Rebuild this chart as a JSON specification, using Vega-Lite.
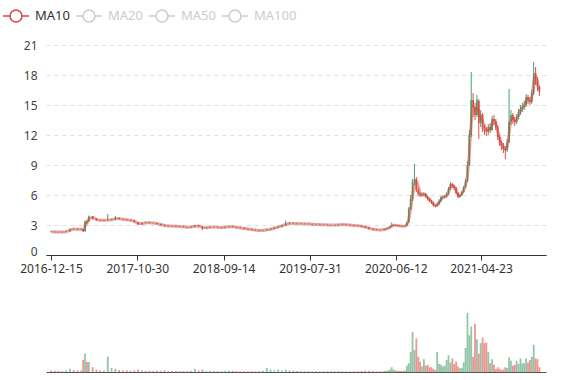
{
"$schema": "https://vega.github.io/schema/vega-lite/v6.json",
"background": "white",
"padding": {"left": 1, "top": 2, "right": 5, "bottom": 3},
"config": {
  "view": {"stroke": null},
  "font": "Noto Sans",
  "axisY": {"domain": false, "ticks": false, "grid": true, "gridColor": "#e0e0e0", "gridDash": [4, 4], "labelColor": "#444", "labelFontSize": 12, "labelPadding": 9, "minExtent": 45, "maxExtent": 45},
  "axisX": {"grid": false, "domainColor": "#333", "tickColor": "#333", "labelColor": "#333", "labelFontSize": 12, "tickSize": 5, "labelPadding": 3, "labelFlush": false}
},
"data": {"values": [
{"d":"2016-12-15","o":2.34,"c":2.32,"h":2.38,"l":2.29,"v":2,"m":2.33},
{"d":"2016-12-29","o":2.32,"c":2.30,"h":2.35,"l":2.27,"v":1.5,"m":2.31},
{"d":"2017-01-12","o":2.30,"c":2.28,"h":2.33,"l":2.25,"v":1.5,"m":2.29},
{"d":"2017-01-26","o":2.28,"c":2.31,"h":2.34,"l":2.26,"v":1.2,"m":2.29},
{"d":"2017-02-09","o":2.31,"c":2.36,"h":2.40,"l":2.29,"v":2,"m":2.33},
{"d":"2017-02-23","o":2.38,"c":2.58,"h":2.66,"l":2.36,"v":4,"m":2.47},
{"d":"2017-03-09","o":2.58,"c":2.60,"h":2.68,"l":2.55,"v":2.5,"m":2.59},
{"d":"2017-03-23","o":2.60,"c":2.56,"h":2.63,"l":2.52,"v":2,"m":2.58},
{"d":"2017-04-06","o":2.56,"c":2.58,"h":2.62,"l":2.52,"v":2,"m":2.57},
{"d":"2017-04-13","o":2.58,"c":2.40,"h":2.60,"l":2.30,"v":15,"m":2.50},
{"d":"2017-04-20","o":2.40,"c":3.35,"h":3.45,"l":2.30,"v":23,"m":2.90},
{"d":"2017-04-27","o":3.35,"c":3.20,"h":3.50,"l":3.10,"v":12.5,"m":3.20},
{"d":"2017-05-04","o":3.40,"c":3.85,"h":3.95,"l":3.30,"v":12.5,"m":3.60},
{"d":"2017-05-18","o":3.85,"c":3.62,"h":3.90,"l":3.55,"v":6,"m":3.75},
{"d":"2017-06-01","o":3.62,"c":3.48,"h":3.66,"l":3.42,"v":3,"m":3.56},
{"d":"2017-06-15","o":3.48,"c":3.45,"h":3.52,"l":3.40,"v":2,"m":3.47},
{"d":"2017-06-29","o":3.45,"c":3.50,"h":3.55,"l":3.42,"v":2,"m":3.47},
{"d":"2017-07-13","o":3.48,"c":3.52,"h":4.10,"l":3.44,"v":19,"m":3.50},
{"d":"2017-07-27","o":3.52,"c":3.55,"h":3.60,"l":3.48,"v":5,"m":3.53},
{"d":"2017-08-10","o":3.55,"c":3.70,"h":3.90,"l":3.52,"v":4,"m":3.62},
{"d":"2017-08-24","o":3.70,"c":3.60,"h":3.74,"l":3.56,"v":2.5,"m":3.65},
{"d":"2017-09-07","o":3.60,"c":3.54,"h":3.63,"l":3.50,"v":2,"m":3.57},
{"d":"2017-09-21","o":3.54,"c":3.50,"h":3.57,"l":3.46,"v":2,"m":3.52},
{"d":"2017-10-05","o":3.50,"c":3.46,"h":3.53,"l":3.42,"v":1.5,"m":3.48},
{"d":"2017-10-19","o":3.46,"c":3.30,"h":3.48,"l":3.25,"v":2,"m":3.38},
{"d":"2017-11-02","o":3.28,"c":3.08,"h":3.30,"l":3.02,"v":3,"m":3.18},
{"d":"2017-11-16","o":3.08,"c":3.20,"h":3.24,"l":3.05,"v":2,"m":3.14},
{"d":"2017-11-30","o":3.20,"c":3.25,"h":3.29,"l":3.16,"v":1.5,"m":3.22},
{"d":"2017-12-14","o":3.25,"c":3.20,"h":3.28,"l":3.16,"v":1.5,"m":3.22},
{"d":"2017-12-28","o":3.20,"c":3.18,"h":3.23,"l":3.14,"v":1.2,"m":3.19},
{"d":"2018-01-11","o":3.18,"c":3.10,"h":3.21,"l":3.06,"v":1.5,"m":3.14},
{"d":"2018-01-25","o":3.10,"c":3.00,"h":3.13,"l":2.96,"v":1.5,"m":3.05},
{"d":"2018-02-08","o":3.00,"c":2.92,"h":3.03,"l":2.86,"v":2,"m":2.96},
{"d":"2018-02-22","o":2.92,"c":2.90,"h":2.95,"l":2.86,"v":1,"m":2.91},
{"d":"2018-03-08","o":2.90,"c":2.88,"h":2.93,"l":2.84,"v":1.2,"m":2.89},
{"d":"2018-03-22","o":2.88,"c":2.86,"h":2.91,"l":2.82,"v":1.2,"m":2.87},
{"d":"2018-04-05","o":2.86,"c":2.84,"h":2.89,"l":2.80,"v":1,"m":2.85},
{"d":"2018-04-19","o":2.84,"c":2.80,"h":2.87,"l":2.76,"v":1.2,"m":2.82},
{"d":"2018-05-03","o":2.80,"c":2.76,"h":2.83,"l":2.72,"v":1.2,"m":2.78},
{"d":"2018-05-17","o":2.76,"c":2.82,"h":2.86,"l":2.73,"v":1.5,"m":2.79},
{"d":"2018-05-31","o":2.82,"c":2.95,"h":3.00,"l":2.80,"v":4,"m":2.88},
{"d":"2018-06-14","o":2.95,"c":2.85,"h":2.97,"l":2.80,"v":2,"m":2.90},
{"d":"2018-06-28","o":2.85,"c":2.68,"h":2.88,"l":2.50,"v":3,"m":2.76},
{"d":"2018-07-12","o":2.68,"c":2.75,"h":2.79,"l":2.64,"v":1.5,"m":2.72},
{"d":"2018-07-26","o":2.75,"c":2.80,"h":2.84,"l":2.72,"v":1.5,"m":2.78},
{"d":"2018-08-09","o":2.80,"c":2.78,"h":2.83,"l":2.74,"v":1.2,"m":2.79},
{"d":"2018-08-23","o":2.78,"c":2.76,"h":2.81,"l":2.72,"v":1,"m":2.77},
{"d":"2018-09-06","o":2.76,"c":2.74,"h":2.79,"l":2.70,"v":1,"m":2.75},
{"d":"2018-09-20","o":2.74,"c":2.80,"h":2.84,"l":2.71,"v":1.5,"m":2.77},
{"d":"2018-10-04","o":2.80,"c":2.84,"h":2.88,"l":2.76,"v":1.5,"m":2.82},
{"d":"2018-10-18","o":2.84,"c":2.80,"h":2.87,"l":2.75,"v":1.5,"m":2.82},
{"d":"2018-11-01","o":2.80,"c":2.74,"h":2.83,"l":2.70,"v":1.2,"m":2.77},
{"d":"2018-11-15","o":2.74,"c":2.70,"h":2.77,"l":2.66,"v":1,"m":2.72},
{"d":"2018-11-29","o":2.70,"c":2.62,"h":2.72,"l":2.58,"v":1,"m":2.66},
{"d":"2018-12-13","o":2.62,"c":2.58,"h":2.65,"l":2.54,"v":1,"m":2.60},
{"d":"2018-12-27","o":2.58,"c":2.52,"h":2.61,"l":2.48,"v":1,"m":2.55},
{"d":"2019-01-10","o":2.52,"c":2.48,"h":2.55,"l":2.44,"v":1,"m":2.50},
{"d":"2019-01-24","o":2.48,"c":2.45,"h":2.51,"l":2.42,"v":1,"m":2.46},
{"d":"2019-02-07","o":2.45,"c":2.48,"h":2.52,"l":2.42,"v":1.5,"m":2.46},
{"d":"2019-02-21","o":2.48,"c":2.55,"h":2.60,"l":2.46,"v":5,"m":2.52},
{"d":"2019-03-07","o":2.55,"c":2.62,"h":2.67,"l":2.52,"v":3,"m":2.58},
{"d":"2019-03-21","o":2.62,"c":2.75,"h":2.80,"l":2.60,"v":2,"m":2.68},
{"d":"2019-04-04","o":2.75,"c":2.85,"h":2.90,"l":2.72,"v":3,"m":2.80},
{"d":"2019-04-18","o":2.85,"c":2.95,"h":3.02,"l":2.82,"v":2,"m":2.90},
{"d":"2019-05-02","o":2.95,"c":3.15,"h":3.45,"l":2.92,"v":3,"m":3.05},
{"d":"2019-05-16","o":3.15,"c":3.18,"h":3.25,"l":3.10,"v":2,"m":3.16},
{"d":"2019-05-30","o":3.18,"c":3.15,"h":3.22,"l":3.11,"v":1.5,"m":3.16},
{"d":"2019-06-13","o":3.15,"c":3.14,"h":3.19,"l":3.10,"v":1.2,"m":3.14},
{"d":"2019-06-27","o":3.14,"c":3.12,"h":3.17,"l":3.08,"v":1,"m":3.13},
{"d":"2019-07-11","o":3.12,"c":3.12,"h":3.16,"l":3.08,"v":1,"m":3.12},
{"d":"2019-07-25","o":3.12,"c":3.10,"h":3.15,"l":3.06,"v":1,"m":3.11},
{"d":"2019-08-08","o":3.10,"c":3.06,"h":3.13,"l":3.02,"v":1,"m":3.08},
{"d":"2019-08-22","o":3.06,"c":3.05,"h":3.10,"l":3.01,"v":1,"m":3.05},
{"d":"2019-09-05","o":3.05,"c":3.04,"h":3.09,"l":3.00,"v":1,"m":3.04},
{"d":"2019-09-19","o":3.04,"c":3.02,"h":3.07,"l":2.98,"v":1,"m":3.03},
{"d":"2019-10-03","o":3.02,"c":3.00,"h":3.05,"l":2.96,"v":1,"m":3.01},
{"d":"2019-10-17","o":3.00,"c":2.98,"h":3.03,"l":2.94,"v":1,"m":2.99},
{"d":"2019-10-31","o":2.98,"c":3.00,"h":3.04,"l":2.95,"v":1,"m":2.99},
{"d":"2019-11-14","o":3.00,"c":3.04,"h":3.08,"l":2.97,"v":1.2,"m":3.02},
{"d":"2019-11-28","o":3.04,"c":3.05,"h":3.09,"l":3.00,"v":1,"m":3.04},
{"d":"2019-12-12","o":3.05,"c":3.02,"h":3.08,"l":2.98,"v":1,"m":3.03},
{"d":"2019-12-26","o":3.02,"c":2.98,"h":3.05,"l":2.94,"v":1,"m":3.00},
{"d":"2020-01-09","o":2.98,"c":2.95,"h":3.01,"l":2.91,"v":1,"m":2.96},
{"d":"2020-01-23","o":2.95,"c":2.92,"h":2.98,"l":2.88,"v":1,"m":2.93},
{"d":"2020-02-06","o":2.92,"c":2.85,"h":2.95,"l":2.80,"v":1.2,"m":2.88},
{"d":"2020-02-20","o":2.85,"c":2.75,"h":2.88,"l":2.70,"v":1.5,"m":2.80},
{"d":"2020-03-05","o":2.75,"c":2.62,"h":2.78,"l":2.55,"v":1.5,"m":2.68},
{"d":"2020-03-19","o":2.62,"c":2.55,"h":2.66,"l":2.48,"v":1.2,"m":2.58},
{"d":"2020-04-02","o":2.55,"c":2.52,"h":2.58,"l":2.48,"v":1,"m":2.53},
{"d":"2020-04-16","o":2.52,"c":2.50,"h":2.55,"l":2.46,"v":1,"m":2.51},
{"d":"2020-04-30","o":2.50,"c":2.58,"h":2.62,"l":2.48,"v":1.2,"m":2.54},
{"d":"2020-05-07","o":2.58,"c":2.65,"h":2.70,"l":2.56,"v":1.5,"m":2.60},
{"d":"2020-05-14","o":2.65,"c":2.70,"h":2.75,"l":2.62,"v":2,"m":2.66},
{"d":"2020-05-21","o":2.70,"c":2.85,"h":2.90,"l":2.68,"v":3,"m":2.76},
{"d":"2020-05-28","o":2.85,"c":2.98,"h":3.25,"l":2.82,"v":6,"m":2.88},
{"d":"2020-06-04","o":2.98,"c":3.00,"h":3.05,"l":2.92,"v":3,"m":2.98},
{"d":"2020-06-11","o":3.00,"c":2.96,"h":3.04,"l":2.90,"v":2,"m":2.98},
{"d":"2020-06-18","o":2.96,"c":2.93,"h":2.99,"l":2.88,"v":1.5,"m":2.95},
{"d":"2020-06-25","o":2.93,"c":2.90,"h":2.96,"l":2.86,"v":1.5,"m":2.92},
{"d":"2020-07-02","o":2.90,"c":2.88,"h":2.93,"l":2.84,"v":1.2,"m":2.89},
{"d":"2020-07-09","o":2.88,"c":2.87,"h":2.92,"l":2.83,"v":1.2,"m":2.88},
{"d":"2020-07-16","o":2.87,"c":2.92,"h":2.96,"l":2.84,"v":2,"m":2.89},
{"d":"2020-07-23","o":2.92,"c":3.25,"h":3.35,"l":2.90,"v":8,"m":3.05},
{"d":"2020-07-30","o":3.25,"c":4.60,"h":4.80,"l":3.20,"v":11,"m":3.60},
{"d":"2020-08-06","o":4.60,"c":5.60,"h":6.00,"l":4.50,"v":25,"m":4.60},
{"d":"2020-08-13","o":5.60,"c":7.30,"h":7.60,"l":5.40,"v":50,"m":5.90},
{"d":"2020-08-20","o":7.30,"c":7.60,"h":9.10,"l":7.00,"v":27.5,"m":7.00},
{"d":"2020-08-27","o":7.60,"c":6.50,"h":7.80,"l":6.30,"v":42,"m":7.40},
{"d":"2020-09-03","o":6.50,"c":6.10,"h":6.70,"l":5.90,"v":19,"m":6.90},
{"d":"2020-09-10","o":6.10,"c":5.95,"h":6.30,"l":5.80,"v":13,"m":6.20},
{"d":"2020-09-17","o":5.95,"c":6.05,"h":6.25,"l":5.85,"v":7,"m":6.00},
{"d":"2020-09-24","o":6.05,"c":6.10,"h":6.30,"l":5.90,"v":16,"m":6.05},
{"d":"2020-10-01","o":6.10,"c":5.80,"h":6.20,"l":5.70,"v":8,"m":5.98},
{"d":"2020-10-08","o":5.80,"c":5.60,"h":5.90,"l":5.45,"v":9,"m":5.75},
{"d":"2020-10-15","o":5.60,"c":5.40,"h":5.70,"l":5.30,"v":6,"m":5.55},
{"d":"2020-10-22","o":5.40,"c":5.25,"h":5.50,"l":5.10,"v":6,"m":5.35},
{"d":"2020-10-29","o":5.25,"c":4.95,"h":5.30,"l":4.85,"v":4,"m":5.12},
{"d":"2020-11-05","o":4.95,"c":4.90,"h":5.05,"l":4.75,"v":2.5,"m":4.95},
{"d":"2020-11-12","o":4.90,"c":5.10,"h":5.25,"l":4.85,"v":25,"m":4.98},
{"d":"2020-11-19","o":5.10,"c":5.40,"h":5.55,"l":5.00,"v":10,"m":5.22},
{"d":"2020-11-26","o":5.40,"c":5.76,"h":5.90,"l":5.30,"v":9,"m":5.55},
{"d":"2020-12-03","o":5.76,"c":5.80,"h":5.95,"l":5.60,"v":7,"m":5.75},
{"d":"2020-12-10","o":5.80,"c":5.85,"h":6.00,"l":5.70,"v":8,"m":5.82},
{"d":"2020-12-17","o":5.85,"c":6.10,"h":6.25,"l":5.75,"v":15,"m":5.95},
{"d":"2020-12-24","o":6.10,"c":6.60,"h":6.80,"l":6.00,"v":21,"m":6.30},
{"d":"2020-12-31","o":6.60,"c":7.10,"h":7.30,"l":6.50,"v":12,"m":6.80},
{"d":"2021-01-07","o":7.10,"c":6.90,"h":7.20,"l":6.70,"v":17,"m":7.00},
{"d":"2021-01-14","o":6.90,"c":6.70,"h":7.00,"l":6.50,"v":10,"m":6.85},
{"d":"2021-01-21","o":6.70,"c":6.20,"h":6.80,"l":6.10,"v":13,"m":6.50},
{"d":"2021-01-28","o":6.20,"c":5.80,"h":6.30,"l":5.70,"v":7,"m":6.05},
{"d":"2021-02-04","o":5.80,"c":6.00,"h":6.10,"l":5.70,"v":4.6,"m":5.95},
{"d":"2021-02-11","o":6.00,"c":6.30,"h":6.40,"l":5.90,"v":5,"m":6.10},
{"d":"2021-02-18","o":6.30,"c":6.80,"h":6.90,"l":6.20,"v":12,"m":6.50},
{"d":"2021-02-25","o":6.80,"c":7.40,"h":7.60,"l":6.70,"v":30,"m":7.00},
{"d":"2021-03-04","o":7.40,"c":9.00,"h":9.40,"l":7.30,"v":74,"m":8.00},
{"d":"2021-03-11","o":9.00,"c":12.00,"h":12.50,"l":8.90,"v":46,"m":10.20},
{"d":"2021-03-18","o":12.00,"c":15.50,"h":18.30,"l":11.80,"v":57,"m":13.20},
{"d":"2021-03-25","o":15.50,"c":14.80,"h":16.20,"l":13.80,"v":19,"m":14.80},
{"d":"2021-04-01","o":14.80,"c":14.00,"h":15.20,"l":13.50,"v":60,"m":14.60},
{"d":"2021-04-08","o":14.00,"c":15.50,"h":16.00,"l":13.80,"v":41,"m":14.70},
{"d":"2021-04-15","o":15.40,"c":13.20,"h":15.60,"l":11.60,"v":23,"m":14.40},
{"d":"2021-04-22","o":13.20,"c":14.00,"h":14.50,"l":12.80,"v":36,"m":13.80},
{"d":"2021-04-29","o":14.00,"c":12.60,"h":14.20,"l":12.30,"v":43,"m":13.40},
{"d":"2021-05-06","o":12.60,"c":12.40,"h":13.00,"l":12.00,"v":36,"m":12.90},
{"d":"2021-05-13","o":12.40,"c":12.30,"h":12.80,"l":11.90,"v":37,"m":12.50},
{"d":"2021-05-20","o":12.30,"c":12.80,"h":13.10,"l":12.00,"v":25,"m":12.50},
{"d":"2021-05-27","o":12.80,"c":12.50,"h":13.20,"l":12.20,"v":11,"m":12.60},
{"d":"2021-06-03","o":12.50,"c":13.60,"h":13.90,"l":12.40,"v":16,"m":13.00},
{"d":"2021-06-10","o":13.60,"c":13.40,"h":14.00,"l":13.00,"v":9,"m":13.40},
{"d":"2021-06-17","o":13.40,"c":12.80,"h":13.60,"l":12.50,"v":3.5,"m":13.10},
{"d":"2021-06-24","o":12.80,"c":11.80,"h":13.00,"l":11.50,"v":6,"m":12.40},
{"d":"2021-07-01","o":11.80,"c":11.20,"h":12.00,"l":10.90,"v":4,"m":11.70},
{"d":"2021-07-08","o":11.20,"c":10.90,"h":11.40,"l":10.50,"v":2.5,"m":11.10},
{"d":"2021-07-15","o":10.90,"c":10.60,"h":11.20,"l":10.20,"v":3,"m":10.80},
{"d":"2021-07-22","o":10.60,"c":10.50,"h":10.90,"l":9.60,"v":6,"m":10.55},
{"d":"2021-07-29","o":10.50,"c":11.30,"h":11.60,"l":10.30,"v":5,"m":10.80},
{"d":"2021-08-05","o":11.30,"c":13.30,"h":16.60,"l":11.20,"v":18,"m":12.20},
{"d":"2021-08-12","o":13.30,"c":14.00,"h":14.50,"l":13.00,"v":14,"m":13.50},
{"d":"2021-08-19","o":14.00,"c":13.50,"h":14.20,"l":13.10,"v":8,"m":13.70},
{"d":"2021-08-26","o":13.50,"c":13.30,"h":13.80,"l":12.90,"v":9,"m":13.40},
{"d":"2021-09-02","o":13.30,"c":13.80,"h":14.10,"l":13.10,"v":14,"m":13.50},
{"d":"2021-09-09","o":13.80,"c":14.30,"h":14.60,"l":13.60,"v":10,"m":14.00},
{"d":"2021-09-16","o":14.30,"c":14.60,"h":15.00,"l":14.00,"v":17,"m":14.40},
{"d":"2021-09-23","o":14.60,"c":14.80,"h":15.20,"l":14.30,"v":11,"m":14.70},
{"d":"2021-09-30","o":14.80,"c":15.00,"h":15.40,"l":14.50,"v":11,"m":14.90},
{"d":"2021-10-07","o":15.00,"c":15.80,"h":16.10,"l":14.80,"v":17,"m":15.40},
{"d":"2021-10-14","o":15.80,"c":15.50,"h":16.00,"l":15.10,"v":12,"m":15.60},
{"d":"2021-10-21","o":15.50,"c":15.30,"h":15.80,"l":15.00,"v":15,"m":15.40},
{"d":"2021-10-28","o":15.30,"c":16.20,"h":16.50,"l":15.10,"v":19,"m":15.80},
{"d":"2021-11-04","o":16.20,"c":18.20,"h":19.30,"l":16.00,"v":34,"m":17.20},
{"d":"2021-11-11","o":18.20,"c":17.60,"h":18.80,"l":17.00,"v":17,"m":17.90},
{"d":"2021-11-18","o":17.60,"c":16.80,"h":17.80,"l":16.40,"v":16,"m":17.20},
{"d":"2021-11-25","o":16.80,"c":16.30,"h":16.90,"l":15.90,"v":6,"m":16.60}
]},
"spacing": 14,
"resolve": {"legend": {"color": "independent"}, "scale": {"color": "independent"}},
"vconcat": [
  {
    "width": 500,
    "height": 210,
    "encoding": {
      "x": {"field": "d", "type": "temporal",
        "scale": {"type": "utc", "domain": [{"year": 2016, "month": 12, "date": 15, "utc": true}, {"year": 2021, "month": 12, "date": 1, "utc": true}]},
        "axis": {"title": null, "format": "%Y-%m-%d", "minExtent": 23, "maxExtent": 23,
          "values": [
            {"year": 2016, "month": 12, "date": 15, "utc": true},
            {"year": 2017, "month": 10, "date": 30, "utc": true},
            {"year": 2018, "month": 9, "date": 14, "utc": true},
            {"year": 2019, "month": 7, "date": 31, "utc": true},
            {"year": 2020, "month": 6, "date": 12, "utc": true},
            {"year": 2021, "month": 4, "date": 23, "utc": true}
          ]}
      }
    },
    "layer": [
      {
        "mark": {"type": "rule", "strokeWidth": 1},
        "encoding": {
          "y": {"field": "l", "type": "quantitative", "scale": {"domain": [0, 21], "nice": false}, "axis": {"title": null, "values": [0, 3, 6, 9, 12, 15, 18, 21], "labelOffset": {"condition": {"test": "datum.value === 0", "value": -4}, "value": 0}}},
          "y2": {"field": "h"},
          "color": {"condition": {"test": "datum.c >= datum.o", "value": "#4c9e72"}, "value": "#dd5044"}
        }
      },
      {
        "mark": {"type": "bar", "size": 1.7},
        "encoding": {
          "y": {"field": "o", "type": "quantitative", "scale": {"domain": [0, 21], "nice": false}, "axis": {"title": null, "values": [0, 3, 6, 9, 12, 15, 18, 21], "labelOffset": {"condition": {"test": "datum.value === 0", "value": -4}, "value": 0}}},
          "y2": {"field": "c"},
          "color": {"condition": {"test": "datum.c >= datum.o", "value": "#4c9e72"}, "value": "#dd5044"}
        }
      },
      {
        "mark": {"type": "line", "strokeWidth": 3, "opacity": 0.5, "interpolate": "monotone"},
        "encoding": {
          "y": {"field": "m", "type": "quantitative", "scale": {"domain": [0, 21], "nice": false}, "axis": {"title": null, "values": [0, 3, 6, 9, 12, 15, 18, 21], "labelOffset": {"condition": {"test": "datum.value === 0", "value": -4}, "value": 0}}},
          "color": {"datum": "MA10", "type": "nominal",
            "scale": {"domain": ["MA10", "MA20", "MA50", "MA100"], "range": ["#d14a3d", "#cccccc", "#cccccc", "#cccccc"]},
            "legend": {"title": null, "orient": "none", "legendX": -44, "legendY": -43, "direction": "horizontal",
              "symbolType": "M-1,0L-0.46,0M0.46,0L1,0M0.46,0A0.46,0.46,0,1,1,-0.46,0A0.46,0.46,0,1,1,0.46,0",
              "symbolSize": 676, "symbolStrokeWidth": 1.5, "symbolOpacity": 1, "symbolFillColor": "#ffffff",
              "labelFontSize": 13, "labelFont": "Noto Sans", "labelOffset": 5, "columnPadding": 3,
              "encode": {"labels": {"update": {"fill": {"signal": "datum.value === 'MA10' ? '#333333' : '#cccccc'"}}}}
            }
          }
        }
      }
    ]
  },
  {
    "width": 500,
    "height": 80,
    "mark": {"type": "bar", "size": 1.8, "opacity": 0.6},
    "encoding": {
      "x": {"field": "d", "type": "temporal",
        "scale": {"type": "utc", "domain": [{"year": 2016, "month": 12, "date": 15, "utc": true}, {"year": 2021, "month": 12, "date": 1, "utc": true}]},
        "axis": {"title": null, "labels": false, "ticks": false, "domainColor": "#555", "minExtent": 1, "maxExtent": 1}
      },
      "y": {"field": "v", "type": "quantitative", "scale": {"domain": [0, 100], "nice": false}, "axis": null},
      "color": {"condition": {"test": "datum.c >= datum.o", "value": "#4c9e72"}, "value": "#dd5044"}
    }
  }
]
}
